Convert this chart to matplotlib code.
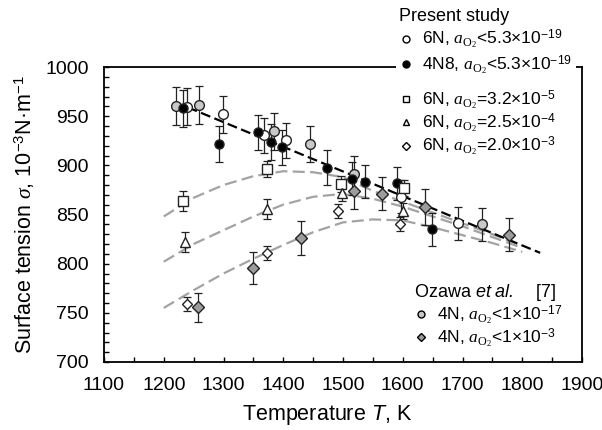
import matplotlib
matplotlib.use("Agg")
import matplotlib.pyplot as plt
from matplotlib.lines import Line2D
from matplotlib.ticker import MultipleLocator

plt.rcParams['font.family'] = 'Liberation Sans'
plt.rcParams['mathtext.fontset'] = 'custom'
plt.rcParams['mathtext.rm'] = 'Liberation Sans'
plt.rcParams['mathtext.it'] = 'Liberation Serif:italic'
plt.rcParams['mathtext.sf'] = 'Liberation Sans:italic'
plt.rcParams['mathtext.cal'] = 'Liberation Serif'

# present study, 6N, a_O2 < 5.3e-19 (open circles)
open_T = [1239, 1299, 1368, 1405, 1597, 1693]
open_s = [959.6, 951.9, 930.5, 925.4, 868.1, 841.0]
open_e = [19, 19, 18, 18, 17, 17]

# present study, 4N8, a_O2 < 5.3e-19 (black circles)
black_T = [1232, 1292, 1357, 1380, 1398, 1473, 1515, 1536, 1591, 1649]
black_s = [958.0, 921.4, 933.6, 923.9, 918.4, 897.5, 886.6, 883.5, 881.7, 835.0]
black_e = [19, 18.5, 18, 18, 18, 18, 17, 17, 17, 17]

# 6N, a_O2 = 3.2e-5 (squares)
sq_T = [1232, 1373, 1497, 1602]
sq_s = [864.0, 896.5, 880.7, 877.2]
sq_e = [10, 8, 8, 8]

# 6N, a_O2 = 2.5e-4 (triangles)
tri_T = [1235, 1373, 1499, 1600]
tri_s = [822.3, 855.5, 871.5, 853.8]
tri_e = [10, 10, 8, 8]

# 6N, a_O2 = 2.0e-3 (open diamonds)
dia_T = [1239, 1373, 1491, 1595]
dia_s = [758.9, 811.0, 853.8, 840.3]
dia_e = [7, 7, 7, 7]

# Ozawa et al. 4N, a_O2 < 1e-17 (gray circles)
oz1_T = [1220, 1259, 1385, 1444, 1519, 1732]
oz1_s = [960.3, 961.3, 934.6, 921.7, 891.2, 840.0]
oz1_e = [19.5, 19.5, 18.5, 18.5, 18, 17]

# Ozawa et al. 4N, a_O2 < 1e-3 (gray diamonds)
oz2_T = [1257, 1349, 1429, 1519, 1565, 1638, 1778]
oz2_s = [755.5, 795.8, 826.2, 873.7, 871.1, 857.6, 829.4]
oz2_e = [15, 16, 17, 18, 17, 18, 17]

# fitted lines
fit_T = [1240, 1830]
fit_s = [959, 811]
curve_T = [1200, 1250, 1300, 1350, 1400, 1450, 1500, 1550, 1600, 1650, 1700, 1750, 1800]
curve_sq = [848, 867, 880, 889, 894, 893, 888, 874, 863, 852, 841, 830, 818]
curve_tri = [802, 820, 834, 848, 860, 868, 871, 866, 858, 848, 838, 827, 816]
curve_dia = [755, 773, 790, 805, 819, 832, 842, 845, 844, 837, 829, 821, 812]

W, H = 602, 430
fig = plt.figure(figsize=(W / 100, H / 100), dpi=100)
ax = fig.add_axes([104 / W, 1 - 362 / H, 478 / W, 295 / H])

gray_c = '#a3a3a3'
for cs in [curve_sq, curve_tri, curve_dia]:
    ax.plot(curve_T, cs, color=gray_c, lw=1.6, dashes=(5.4, 2.4), zorder=1)
ax.plot(fit_T, fit_s, color='black', lw=1.6, dashes=(4.5, 2.0), zorder=1)

series = [
    (oz2_T, oz2_s, oz2_e, 'D', '#9c9c9c', 6.0),
    (oz1_T, oz1_s, oz1_e, 'o', '#c8c8c8', 7.0),
    (open_T, open_s, open_e, 'o', 'white', 7.0),
    (black_T, black_s, black_e, 'o', 'black', 6.5),
    (sq_T, sq_s, sq_e, 's', 'white', 6.5),
    (tri_T, tri_s, tri_e, '^', 'white', 6.5),
    (dia_T, dia_s, dia_e, 'D', 'white', 5.0),
]
for t, s, e, m, fc, ms in series:
    ax.errorbar(t, s, yerr=e, fmt='none', ecolor='#222222', elinewidth=0.9,
                capsize=3, capthick=0.9, zorder=2)
    ax.plot(t, s, ls='none', marker=m, mfc=fc, mec='#222222', ms=ms, mew=1.0, zorder=3)

ax.set_xlim(1100, 1900)
ax.set_ylim(700, 1000)
ax.xaxis.set_major_locator(MultipleLocator(100))
ax.xaxis.set_minor_locator(MultipleLocator(50))
ax.yaxis.set_major_locator(MultipleLocator(50))
ax.yaxis.set_minor_locator(MultipleLocator(10))
ax.tick_params(which='both', direction='in', length=3.5, width=1.0, labelsize=14, pad=11)
for sp in ax.spines.values():
    sp.set_linewidth(1.3)

ax.set_xlabel(r'Temperature $\mathsf{T}$, K', fontsize=15.5)
ax.xaxis.set_label_coords(0.467, -0.14)
ax.set_ylabel(r'Surface tension $\sigma$, 10$^{-3}$N·m$^{-1}$', fontsize=15.5)
ax.yaxis.set_label_coords(-0.14, 0.5)


def h(marker, fc, ms=5):
    return Line2D([], [], ls='none', marker=marker, mfc=fc, mec='black', ms=ms, mew=1.0)


aO2 = r'$a_{\mathcal{O}_{\mathcal{2}}}$'
common = dict(loc='upper left', bbox_transform=fig.transFigure, frameon=True,
              facecolor='white', edgecolor='none', framealpha=1, fancybox=False,
              fontsize=12.5, title_fontsize=13, alignment='left', handlelength=0.7,
              handletextpad=0.6, borderpad=0.2, borderaxespad=0, labelspacing=0.15)

leg1 = ax.legend([h('o', 'white'), h('o', 'black')],
                 ['6N, ' + aO2 + '<5.3×10$^{-19}$', '4N8, ' + aO2 + '<5.3×10$^{-19}$'],
                 title='Present study', bbox_to_anchor=(396 / W, 1 - 5 / H), **common)
ax.add_artist(leg1)
common['labelspacing'] = 0.0
leg2 = ax.legend([h('s', 'white'), h('^', 'white'), h('D', 'white', 4.5)],
                 ['6N, ' + aO2 + '=3.2×10$^{-5}$', '6N, ' + aO2 + '=2.5×10$^{-4}$',
                  '6N, ' + aO2 + '=2.0×10$^{-3}$'],
                 bbox_to_anchor=(396 / W, 1 - 85 / H), **common)
ax.add_artist(leg2)
leg3 = ax.legend([h('o', '#c8c8c8'), h('D', '#9c9c9c', 4.5)],
                 ['4N, ' + aO2 + '<1×10$^{-17}$', '4N, ' + aO2 + '<1×10$^{-3}$'],
                 title=r'Ozawa $\mathsf{et\ al.}$    [7]',
                 bbox_to_anchor=(411 / W, 1 - 279 / H), **common)

fig.savefig('out.png', dpi=100)
